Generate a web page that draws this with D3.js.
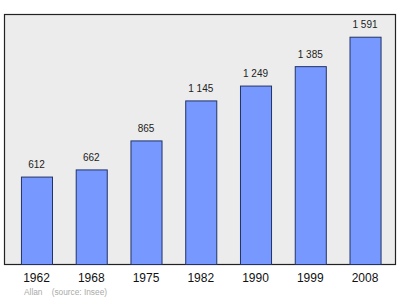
<!DOCTYPE html>
<html>
<head>
<meta charset="utf-8">
<script src="https://cdn.jsdelivr.net/npm/d3@7"></script>
<style>
  body { margin: 0; background: #fff; }
  text { font-family: "Liberation Sans", Arial, sans-serif; }
</style>
</head>
<body>
<svg id="chart" width="400" height="299"></svg>
<script>
// population by census year
var years = ['1962', '1968', '1975', '1982', '1990', '1999', '2008'];
var population = [612, 662, 865, 1145, 1249, 1385, 1591];
var valueLabels = ['612', '662', '865', '1 145', '1 249', '1 385', '1 591'];

var svg = d3.select('#chart');
var frameLeft = 4, frameRight = 395, frameTop = 14, frameBottom = 264;

svg.append('rect')
  .attr('x', frameLeft + 0.5).attr('y', frameTop + 0.5)
  .attr('width', frameRight - frameLeft).attr('height', frameBottom - frameTop)
  .attr('fill', '#ececec').attr('stroke', '#222').attr('stroke-width', 1.2);

var x = d3.scaleBand()
  .domain(years)
  .range([10, 391.5])
  .paddingInner(0.433)
  .paddingOuter(0.2);

var y = d3.scaleLinear()
  .domain([0, 1750])
  .range([frameBottom, frameTop]);

svg.selectAll('rect.bar')
  .data(population)
  .enter()
  .append('rect')
  .attr('class', 'bar')
  .attr('x', function(d, i) { return x(years[i]) + 0.5; })
  .attr('y', function(d) { return y(d) + 0.5; })
  .attr('width', x.bandwidth())
  .attr('height', function(d) { return frameBottom - y(d); })
  .attr('fill', '#7799ff')
  .attr('stroke', '#223366')
  .attr('stroke-width', 1);

svg.selectAll('text.val')
  .data(population)
  .enter()
  .append('text')
  .attr('class', 'val')
  .attr('x', function(d, i) { return x(years[i]) + x.bandwidth() / 2; })
  .attr('y', function(d) { return y(d) - 8.5; })
  .attr('text-anchor', 'middle')
  .attr('font-size', 10)
  .attr('fill', '#222')
  .text(function(d, i) { return valueLabels[i]; });

var axis = d3.axisBottom(x).tickSize(0).tickPadding(9);
var gx = svg.append('g')
  .attr('transform', 'translate(0,' + (frameBottom + 0.5) + ')')
  .call(axis);
gx.select('.domain').remove();
gx.selectAll('text')
  .attr('font-size', 12)
  .attr('fill', '#111')
  .style('font-family', '"Liberation Sans", Arial, sans-serif');

svg.append('text')
  .attr('x', 24).attr('y', 295)
  .attr('font-size', 8.3)
  .attr('fill', '#aaa')
  .style('white-space', 'pre')
  .text('Allan    (source: Insee)');
</script>
</body>
</html>
